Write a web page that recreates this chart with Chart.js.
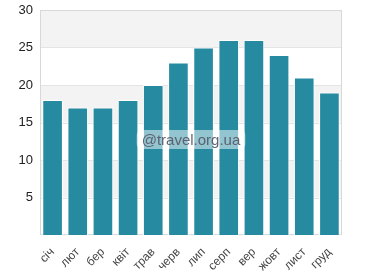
<!DOCTYPE html>
<html>
<head>
<meta charset="utf-8">
<script src="https://cdn.jsdelivr.net/npm/chart.js@4"></script>
<style>
  html, body { margin: 0; padding: 0; background: #fff; }
  #wrap { width: 382px; height: 280px; }
</style>
</head>
<body>
<div id="wrap"><canvas id="chart" width="382" height="280"></canvas></div>
<script>
  // Середня температура по місяцях
  const months = ["січ", "лют", "бер", "квіт", "трав", "черв", "лип", "серп", "вер", "жовт", "лист", "груд"];
  const temps = [18, 17, 17, 18, 20, 23, 25, 26, 26, 24, 21, 19];
  const yTicks = [0, 5, 10, 15, 20, 25, 30];
  const watermark = "@travel.org.ua";

  // смуги фону: сіра / біла по черзі
  const bandsPlugin = {
    id: "bands",
    beforeDatasetsDraw(chart) {
      const { ctx, chartArea, scales } = chart;
      const y = scales.y;
      ctx.save();
      for (let i = 0; i < yTicks.length - 1; i++) {
        if ((yTicks.length - 2 - i) % 2 !== 0) continue;
        const top = y.getPixelForValue(yTicks[i + 1]);
        const bot = y.getPixelForValue(yTicks[i]);
        ctx.fillStyle = "#f3f3f3";
        ctx.fillRect(chartArea.left, top, chartArea.right - chartArea.left, bot - top);
      }
      // горизонтальні лінії поверх смуг
      ctx.strokeStyle = "#e4e4e4";
      ctx.lineWidth = 1;
      for (const v of yTicks.slice(1, -1)) {
        const py = Math.round(y.getPixelForValue(v)) + 0.5;
        ctx.beginPath();
        ctx.moveTo(chartArea.left, py);
        ctx.lineTo(chartArea.right, py);
        ctx.stroke();
      }
      // рамка
      ctx.strokeStyle = "#d8d8d8";
      ctx.strokeRect(chartArea.left + 0.5, chartArea.top + 0.5,
        chartArea.right - chartArea.left - 1, chartArea.bottom - chartArea.top - 1);
      ctx.restore();
    },
  };

  const watermarkPlugin = {
    id: "watermark",
    afterDatasetsDraw(chart) {
      const { ctx, chartArea } = chart;
      const cx = (chartArea.left + chartArea.right) / 2;
      const cy = chartArea.top + (chartArea.bottom - chartArea.top) * 0.575;
      ctx.save();
      ctx.font = "15px 'Liberation Sans', Arial, sans-serif";
      const w = ctx.measureText(watermark).width + 10;
      const h = 19;
      ctx.fillStyle = "rgba(255,255,255,0.5)";
      ctx.beginPath();
      ctx.roundRect(cx - w / 2, cy - h / 2, w, h, 5);
      ctx.fill();
      ctx.fillStyle = "rgba(85,85,100,0.9)";
      ctx.textAlign = "center";
      ctx.textBaseline = "middle";
      ctx.fillText(watermark, cx, cy + 1);
      ctx.restore();
    },
  };

  new Chart(document.getElementById("chart"), {
    type: "bar",
    data: {
      labels: months,
      datasets: [
        {
          data: temps,
          backgroundColor: "#268ba0",
          borderColor: "#ffffff",
          borderWidth: 1,
          barPercentage: 0.82,
          categoryPercentage: 1,
        },
      ],
    },
    options: {
      responsive: false,
      animation: false,
      devicePixelRatio: 1,
      layout: { padding: { top: 10, right: 40, left: 0, bottom: 0 } },
      plugins: {
        legend: { display: false },
        tooltip: { enabled: false },
      },
      scales: {
        x: {
          grid: { display: false },
          border: { display: false },
          ticks: {
            maxRotation: 45,
            minRotation: 45,
            padding: 2,
            color: "#444",
            font: { family: "'Liberation Sans', Arial, sans-serif", size: 12 },
          },
          afterFit: (s) => { s.height = 45; },
        },
        y: {
          min: 0,
          max: 30,
          grid: { display: false, drawTicks: false },
          border: { display: false },
          ticks: {
            stepSize: 5,
            padding: 7,
            color: "#222",
            font: { family: "'Liberation Sans', Arial, sans-serif", size: 13, lineHeight: 1 },
            callback: (v) => (v === 0 ? "" : v),
          },
          afterFit: (s) => {
            s.width = 40;
            s.paddingTop = 0;
            s.paddingBottom = 0;
          },
        },
      },
    },
    plugins: [bandsPlugin, watermarkPlugin],
  });
</script>
</body>
</html>
